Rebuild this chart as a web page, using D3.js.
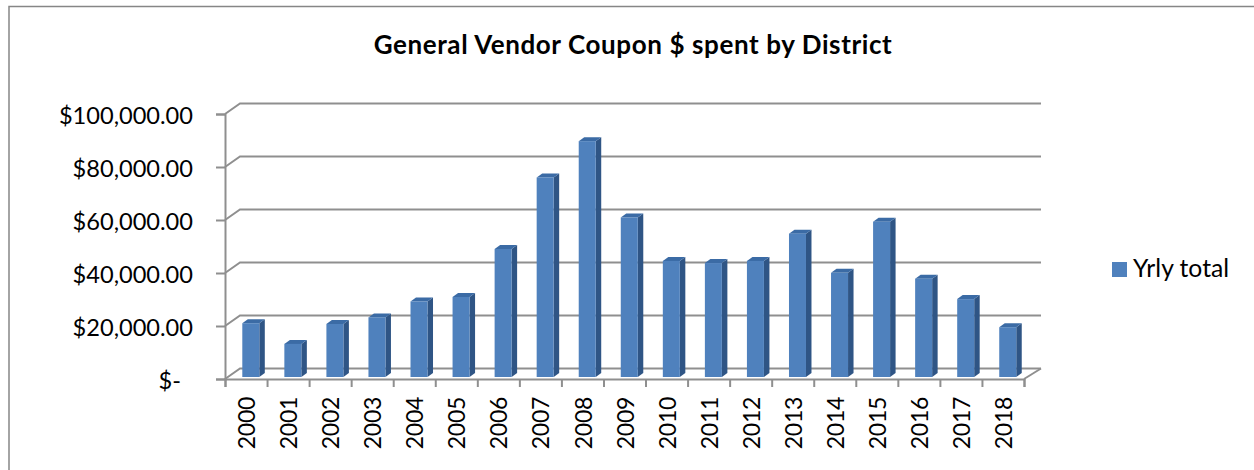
<!DOCTYPE html>
<html>
<head>
<meta charset="utf-8">
<script src="https://cdnjs.cloudflare.com/ajax/libs/d3/7.8.5/d3.min.js"></script>
<style>
html, body { margin: 0; padding: 0; background: #fff; }
svg { display: block; font-family: Lato, "Open Sans", sans-serif; }
</style>
</head>
<body>
<div id="chart"></div>
<script>
var years = ["2000","2001","2002","2003","2004","2005","2006","2007","2008","2009",
             "2010","2011","2012","2013","2014","2015","2016","2017","2018"];
var yrlyTotal = [20300,12500,20000,22500,28500,30200,48300,75300,89000,60200,
                 43800,43000,43800,54100,39300,58600,37100,29400,18800];
var yTicks = [0,20000,40000,60000,80000,100000];
var seriesName = "Yrly total";
var title = "General Vendor Coupon $ spent by District";

var width = 1254, height = 470;
var depthX = 15, depthY = 10.5;       // floor depth of the 3d box
var barDepthX = 5.5, barDepthY = 4;
var lineColor = "#8f8f8f";

var svg = d3.select("#chart").append("svg")
    .attr("width", width)
    .attr("height", height);

// outer frame, only top and left are in the picture
svg.append("path")
    .attr("d", d3.line()([[9, height], [9, 6.5], [width, 6.5]]))
    .attr("fill", "none")
    .attr("stroke", "#868686")
    .attr("stroke-width", 1.5);

svg.append("text")
    .attr("x", 633)
    .attr("y", 54)
    .attr("text-anchor", "middle")
    .attr("font-size", 26)
    .attr("letter-spacing", 0.6)
    .attr("font-weight", 700)
    .attr("fill", "#000")
    .text(title);

var x = d3.scaleBand().domain(years).range([225, 1024]);
var xTickPos = d3.scaleLinear().domain([0, years.length]).range([225, 1024]);
var y = d3.scaleLinear().domain([0, 100000]).range([379, 114]);

// back wall lines + the diagonals running to the front axis
var grid = svg.append("g")
    .attr("fill", "none")
    .attr("stroke", lineColor)
    .attr("stroke-width", 2);

grid.selectAll("path")
    .data(yTicks)
    .enter()
    .append("path")
    .attr("d", function (d) {
        return d3.line()([
            [225, y(d)],
            [225 + depthX, y(d) - depthY],
            [1024 + depthX + 2, y(d) - depthY]
        ]);
    });

grid.append("path")
    .attr("d", d3.line()([[1024, 379], [1024 + depthX + 2, 379 - depthY]]));

var yAxis = svg.append("g")
    .attr("transform", "translate(225,0)")
    .call(d3.axisLeft(y)
        .tickValues(yTicks)
        .tickSize(9)
        .tickFormat(function (d) {
            return d === 0 ? "$-" : "$" + d3.format(",.2f")(d);
        }));
yAxis.selectAll("line").attr("stroke", lineColor).attr("stroke-width", 2);
yAxis.select(".domain").attr("stroke", lineColor).attr("stroke-width", 2);
yAxis.selectAll("text")
    .attr("font-family", "Lato, sans-serif")
    .attr("font-size", 23.6)
    .attr("fill", "#000")
    .attr("x", function (d) { return d === 0 ? -44 : -32; })
    .attr("dy", "0.42em");

var xTicks = svg.append("g")
    .attr("transform", "translate(0,379)")
    .call(d3.axisBottom(xTickPos)
        .tickValues(d3.range(years.length + 1))
        .tickSize(8)
        .tickFormat(""));
xTicks.selectAll("line").attr("stroke", lineColor).attr("stroke-width", 2);
xTicks.select(".domain").attr("stroke", lineColor).attr("stroke-width", 2);

var xLabels = svg.append("g")
    .attr("transform", "translate(0,379)")
    .call(d3.axisBottom(x).tickSize(0).tickFormat(function (d) { return d; }));
xLabels.select(".domain").remove();
xLabels.selectAll("text")
    .attr("font-family", "Lato, sans-serif")
    .attr("font-size", 23)
    .attr("letter-spacing", -0.3)
    .attr("fill", "#000")
    .attr("transform", "rotate(-90)")
    .attr("text-anchor", "end")
    .attr("x", -18)
    .attr("y", 1)
    .attr("dy", "0.35em");

// bars: the baseline sits a little behind the front edge of the floor
var baseY = y(0) - 2;
var barLeft = function (d) { return x(d) + 17.3; };
var barW = 17;
var topY = function (i) { return y(yrlyTotal[i]) - 2; };

var bars = svg.selectAll(".bar")
    .data(years)
    .enter()
    .append("g")
    .attr("class", "bar");

bars.append("path")
    .attr("fill", "#2f5585")
    .attr("d", function (d, i) {
        var r = barLeft(d) + barW;
        return d3.line()([[r, topY(i)], [r + barDepthX, topY(i) - barDepthY],
            [r + barDepthX, baseY - barDepthY], [r, baseY]]) + "Z";
    });

bars.append("path")
    .attr("fill", "#3b6ba5")
    .attr("d", function (d, i) {
        var l = barLeft(d), r = l + barW;
        return d3.line()([[l, topY(i)], [l + barDepthX, topY(i) - barDepthY],
            [r + barDepthX, topY(i) - barDepthY], [r, topY(i)]]) + "Z";
    });

bars.append("rect")
    .attr("fill", "#4f81bd")
    .attr("x", barLeft)
    .attr("y", function (d, i) { return topY(i); })
    .attr("width", barW)
    .attr("height", function (d, i) { return baseY - topY(i); });

// legend
svg.append("rect")
    .attr("x", 1112)
    .attr("y", 262)
    .attr("width", 15)
    .attr("height", 15)
    .attr("fill", "#4f81bd");

svg.append("text")
    .attr("x", 1133)
    .attr("y", 277)
    .attr("font-size", 24.7)
    .attr("fill", "#000")
    .text(seriesName);
</script>
</body>
</html>
